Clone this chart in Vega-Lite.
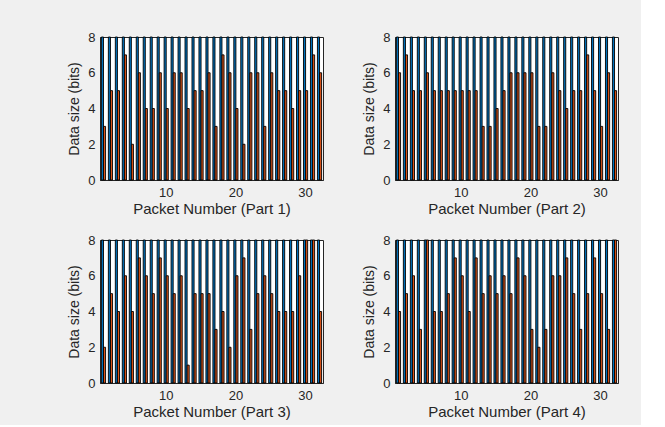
{
  "$schema": "https://vega.github.io/schema/vega-lite/v6.json",
  "background": "#f0f0f0",
  "padding": {"left": 67, "top": 30, "right": 22, "bottom": 5},
  "config": {
    "font": "Liberation Sans",
    "view": {"fill": "white", "stroke": "#262626", "strokeWidth": 1},
    "axis": {"domainColor": "#262626", "labelColor": "#262626", "titleColor": "#262626", "labelFont": "Liberation Sans", "titleFont": "Liberation Sans", "labelFontSize": 13, "titleFontSize": 14, "titleFontWeight": "normal", "grid": false, "ticks": false}
  },
  "datasets": {
    "p1": [{"packet":1,"a":8,"b":3},{"packet":2,"a":8,"b":5},{"packet":3,"a":8,"b":5},{"packet":4,"a":8,"b":7},{"packet":5,"a":8,"b":2},{"packet":6,"a":8,"b":6},{"packet":7,"a":8,"b":4},{"packet":8,"a":8,"b":4},{"packet":9,"a":8,"b":6},{"packet":10,"a":8,"b":4},{"packet":11,"a":8,"b":6},{"packet":12,"a":8,"b":6},{"packet":13,"a":8,"b":4},{"packet":14,"a":8,"b":5},{"packet":15,"a":8,"b":5},{"packet":16,"a":8,"b":6},{"packet":17,"a":8,"b":3},{"packet":18,"a":8,"b":7},{"packet":19,"a":8,"b":6},{"packet":20,"a":8,"b":4},{"packet":21,"a":8,"b":2},{"packet":22,"a":8,"b":6},{"packet":23,"a":8,"b":6},{"packet":24,"a":8,"b":3},{"packet":25,"a":8,"b":6},{"packet":26,"a":8,"b":5},{"packet":27,"a":8,"b":5},{"packet":28,"a":8,"b":4},{"packet":29,"a":8,"b":5},{"packet":30,"a":8,"b":5},{"packet":31,"a":8,"b":7},{"packet":32,"a":8,"b":6}],
    "p2": [{"packet":1,"a":8,"b":6},{"packet":2,"a":8,"b":7},{"packet":3,"a":8,"b":5},{"packet":4,"a":8,"b":5},{"packet":5,"a":8,"b":6},{"packet":6,"a":8,"b":5},{"packet":7,"a":8,"b":5},{"packet":8,"a":8,"b":5},{"packet":9,"a":8,"b":5},{"packet":10,"a":8,"b":5},{"packet":11,"a":8,"b":5},{"packet":12,"a":8,"b":5},{"packet":13,"a":8,"b":3},{"packet":14,"a":8,"b":3},{"packet":15,"a":8,"b":4},{"packet":16,"a":8,"b":5},{"packet":17,"a":8,"b":6},{"packet":18,"a":8,"b":6},{"packet":19,"a":8,"b":6},{"packet":20,"a":8,"b":6},{"packet":21,"a":8,"b":3},{"packet":22,"a":8,"b":3},{"packet":23,"a":8,"b":6},{"packet":24,"a":8,"b":5},{"packet":25,"a":8,"b":4},{"packet":26,"a":8,"b":5},{"packet":27,"a":8,"b":5},{"packet":28,"a":8,"b":7},{"packet":29,"a":8,"b":5},{"packet":30,"a":8,"b":3},{"packet":31,"a":8,"b":6},{"packet":32,"a":8,"b":5}],
    "p3": [{"packet":1,"a":8,"b":2},{"packet":2,"a":8,"b":5},{"packet":3,"a":8,"b":4},{"packet":4,"a":8,"b":6},{"packet":5,"a":8,"b":4},{"packet":6,"a":8,"b":7},{"packet":7,"a":8,"b":6},{"packet":8,"a":8,"b":5},{"packet":9,"a":8,"b":7},{"packet":10,"a":8,"b":6},{"packet":11,"a":8,"b":5},{"packet":12,"a":8,"b":6},{"packet":13,"a":8,"b":1},{"packet":14,"a":8,"b":5},{"packet":15,"a":8,"b":5},{"packet":16,"a":8,"b":5},{"packet":17,"a":8,"b":3},{"packet":18,"a":8,"b":4},{"packet":19,"a":8,"b":2},{"packet":20,"a":8,"b":6},{"packet":21,"a":8,"b":7},{"packet":22,"a":8,"b":3},{"packet":23,"a":8,"b":5},{"packet":24,"a":8,"b":6},{"packet":25,"a":8,"b":5},{"packet":26,"a":8,"b":4},{"packet":27,"a":8,"b":4},{"packet":28,"a":8,"b":4},{"packet":29,"a":8,"b":6},{"packet":30,"a":8,"b":8},{"packet":31,"a":8,"b":8},{"packet":32,"a":8,"b":4}],
    "p4": [{"packet":1,"a":8,"b":4},{"packet":2,"a":8,"b":5},{"packet":3,"a":8,"b":6},{"packet":4,"a":8,"b":3},{"packet":5,"a":8,"b":8},{"packet":6,"a":8,"b":4},{"packet":7,"a":8,"b":4},{"packet":8,"a":8,"b":5},{"packet":9,"a":8,"b":7},{"packet":10,"a":8,"b":6},{"packet":11,"a":8,"b":4},{"packet":12,"a":8,"b":7},{"packet":13,"a":8,"b":5},{"packet":14,"a":8,"b":6},{"packet":15,"a":8,"b":5},{"packet":16,"a":8,"b":6},{"packet":17,"a":8,"b":5},{"packet":18,"a":8,"b":7},{"packet":19,"a":8,"b":6},{"packet":20,"a":8,"b":3},{"packet":21,"a":8,"b":2},{"packet":22,"a":8,"b":3},{"packet":23,"a":8,"b":6},{"packet":24,"a":8,"b":6},{"packet":25,"a":8,"b":7},{"packet":26,"a":8,"b":5},{"packet":27,"a":8,"b":3},{"packet":28,"a":8,"b":5},{"packet":29,"a":8,"b":7},{"packet":30,"a":8,"b":5},{"packet":31,"a":8,"b":3},{"packet":32,"a":8,"b":8}]
  },
  "columns": 2,
  "spacing": {"row": 16, "column": 38},
  "concat": [
    {
      "width": 223, "height": 143,
      "data": {"name": "p1"},
      "transform": [{"fold": ["a", "b"], "as": ["series", "bits"]}],
      "mark": {"type": "bar", "stroke": "#000", "strokeWidth": 0.9},
      "encoding": {
        "x": {"field": "packet", "type": "ordinal", "scale": {"paddingInner": 0.4, "paddingOuter": 0.2}, "axis": {"values": [10, 20, 30], "labelAngle": 0, "title": "Packet Number (Part 1)", "labelPadding": 6, "titlePadding": 2, "titleFontSize": 15}},
        "xOffset": {"field": "series"},
        "y": {"field": "bits", "type": "quantitative", "scale": {"domain": [0, 8], "nice": false}, "axis": {"values": [0, 2, 4, 6, 8], "title": "Data size (bits)", "labelPadding": 5, "titlePadding": 6}},
        "color": {"field": "series", "scale": {"domain": ["a", "b"], "range": ["#0072BD", "#D95319"]}, "legend": null}
      }
    },
    {
      "width": 223, "height": 143,
      "data": {"name": "p2"},
      "transform": [{"fold": ["a", "b"], "as": ["series", "bits"]}],
      "mark": {"type": "bar", "stroke": "#000", "strokeWidth": 0.9},
      "encoding": {
        "x": {"field": "packet", "type": "ordinal", "scale": {"paddingInner": 0.4, "paddingOuter": 0.2}, "axis": {"values": [10, 20, 30], "labelAngle": 0, "title": "Packet Number (Part 2)", "labelPadding": 6, "titlePadding": 2, "titleFontSize": 15}},
        "xOffset": {"field": "series"},
        "y": {"field": "bits", "type": "quantitative", "scale": {"domain": [0, 8], "nice": false}, "axis": {"values": [0, 2, 4, 6, 8], "title": "Data size (bits)", "labelPadding": 5, "titlePadding": 6}},
        "color": {"field": "series", "scale": {"domain": ["a", "b"], "range": ["#0072BD", "#D95319"]}, "legend": null}
      }
    },
    {
      "width": 223, "height": 143,
      "data": {"name": "p3"},
      "transform": [{"fold": ["a", "b"], "as": ["series", "bits"]}],
      "mark": {"type": "bar", "stroke": "#000", "strokeWidth": 0.9},
      "encoding": {
        "x": {"field": "packet", "type": "ordinal", "scale": {"paddingInner": 0.4, "paddingOuter": 0.2}, "axis": {"values": [10, 20, 30], "labelAngle": 0, "title": "Packet Number (Part 3)", "labelPadding": 6, "titlePadding": 2, "titleFontSize": 15}},
        "xOffset": {"field": "series"},
        "y": {"field": "bits", "type": "quantitative", "scale": {"domain": [0, 8], "nice": false}, "axis": {"values": [0, 2, 4, 6, 8], "title": "Data size (bits)", "labelPadding": 5, "titlePadding": 6}},
        "color": {"field": "series", "scale": {"domain": ["a", "b"], "range": ["#0072BD", "#D95319"]}, "legend": null}
      }
    },
    {
      "width": 223, "height": 143,
      "data": {"name": "p4"},
      "transform": [{"fold": ["a", "b"], "as": ["series", "bits"]}],
      "mark": {"type": "bar", "stroke": "#000", "strokeWidth": 0.9},
      "encoding": {
        "x": {"field": "packet", "type": "ordinal", "scale": {"paddingInner": 0.4, "paddingOuter": 0.2}, "axis": {"values": [10, 20, 30], "labelAngle": 0, "title": "Packet Number (Part 4)", "labelPadding": 6, "titlePadding": 2, "titleFontSize": 15}},
        "xOffset": {"field": "series"},
        "y": {"field": "bits", "type": "quantitative", "scale": {"domain": [0, 8], "nice": false}, "axis": {"values": [0, 2, 4, 6, 8], "title": "Data size (bits)", "labelPadding": 5, "titlePadding": 6}},
        "color": {"field": "series", "scale": {"domain": ["a", "b"], "range": ["#0072BD", "#D95319"]}, "legend": null}
      }
    }
  ]
}
